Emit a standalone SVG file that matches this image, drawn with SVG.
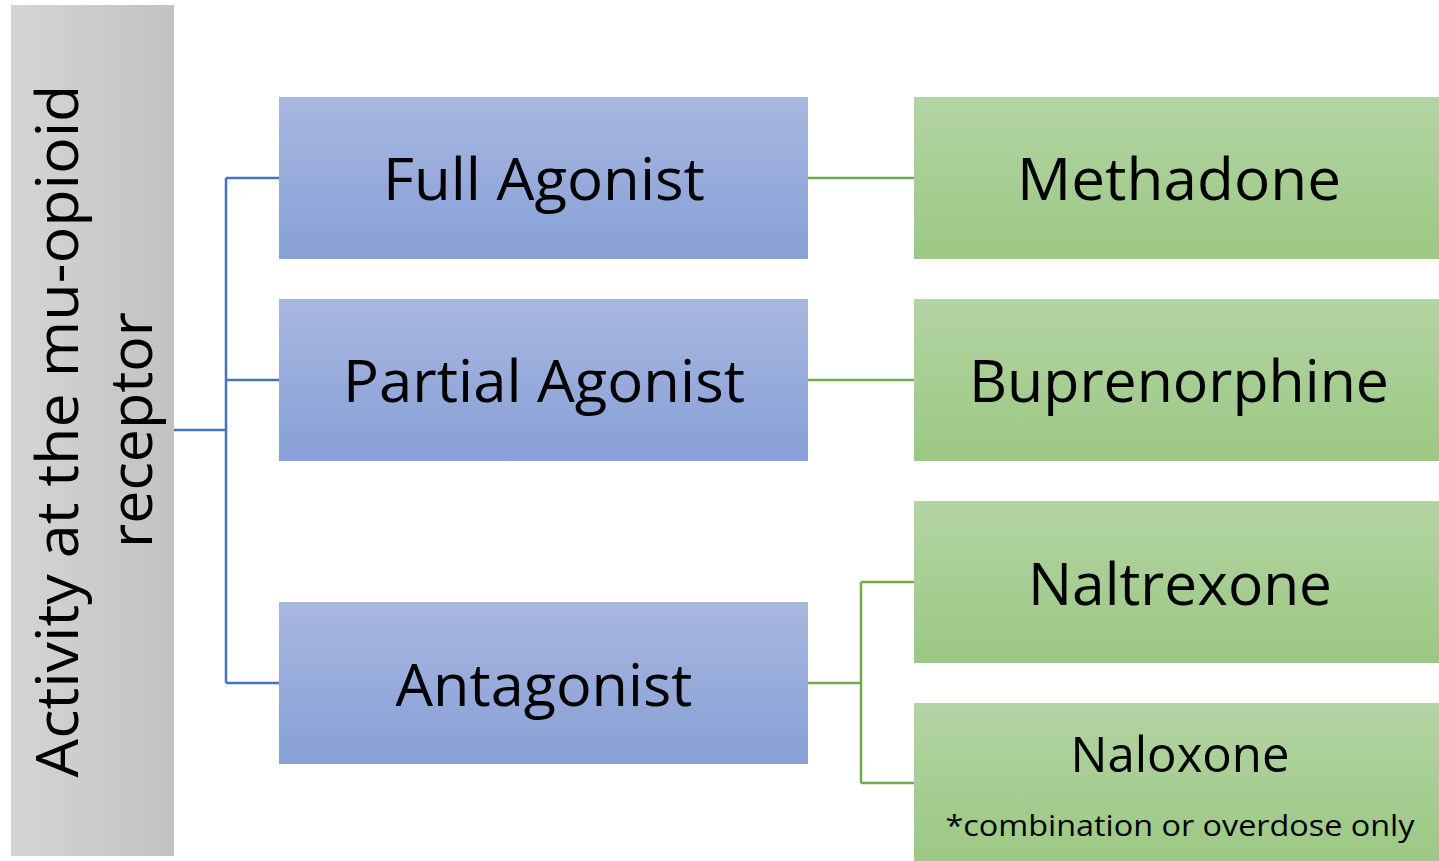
<svg xmlns="http://www.w3.org/2000/svg" width="1439" height="861" viewBox="0 0 1439 861">
  <defs>
    <linearGradient id="gGrey" x1="0" y1="0" x2="1" y2="0">
      <stop offset="0" stop-color="#d5d5d5"/>
      <stop offset="1" stop-color="#c2c2c2"/>
    </linearGradient>
    <linearGradient id="gBlue" x1="0" y1="0" x2="0" y2="1">
      <stop offset="0" stop-color="#a8b7e0"/>
      <stop offset="1" stop-color="#87a0d6"/>
    </linearGradient>
    <linearGradient id="gGreen" x1="0" y1="0" x2="0" y2="1">
      <stop offset="0" stop-color="#b3d4a3"/>
      <stop offset="1" stop-color="#9bc883"/>
    </linearGradient>
  </defs>
  <style>
    .t { font-family: "Open Sans", "Liberation Sans", sans-serif; fill: #000; text-anchor: middle; }
    .big { font-size: 58px; }
    .mid { font-size: 50px; }
    .small { font-size: 30px; }
    .blue { fill: url(#gBlue); }
    .green { fill: url(#gGreen); }
    .cb { fill: none; stroke: #4472c4; stroke-width: 2.5; }
    .cg { fill: none; stroke: #70ad47; stroke-width: 2.5; }
  </style>
  <rect width="1439" height="861" fill="#ffffff"/>

  <g id="connectors">
    <path class="cb" d="M174,430 H226 M226,178 V683 M226,178 H279 M226,380 H279 M226,683 H279"/>
    <path class="cg" d="M808,178 H914 M808,380 H914 M808,683 H861 M861,582 V783 M861,582 H914 M861,783 H914"/>
  </g>

  <g id="root">
    <rect x="11" y="5" width="163" height="851" fill="url(#gGrey)"/>
    <text class="t big" transform="translate(78,431) rotate(-90)" x="0" y="0" textLength="693" lengthAdjust="spacingAndGlyphs">Activity at the mu-opioid</text>
    <text class="t big" transform="translate(152,430) rotate(-90)" x="0" y="0" textLength="236" lengthAdjust="spacingAndGlyphs">receptor</text>
  </g>

  <g id="full-agonist">
    <rect class="blue" x="279" y="97" width="529" height="162"/>
    <text class="t big" x="544" y="200" textLength="322" lengthAdjust="spacingAndGlyphs">Full Agonist</text>
  </g>
  <g id="partial-agonist">
    <rect class="blue" x="279" y="299" width="529" height="162"/>
    <text class="t big" x="544" y="402" textLength="402" lengthAdjust="spacingAndGlyphs">Partial Agonist</text>
  </g>
  <g id="antagonist">
    <rect class="blue" x="279" y="602" width="529" height="162"/>
    <text class="t big" x="544" y="706" textLength="297" lengthAdjust="spacingAndGlyphs">Antagonist</text>
  </g>

  <g id="methadone">
    <rect class="green" x="914" y="97" width="525" height="162"/>
    <text class="t big" x="1179" y="200" textLength="324" lengthAdjust="spacingAndGlyphs">Methadone</text>
  </g>
  <g id="buprenorphine">
    <rect class="green" x="914" y="299" width="525" height="162"/>
    <text class="t big" x="1179" y="402" textLength="420" lengthAdjust="spacingAndGlyphs">Buprenorphine</text>
  </g>
  <g id="naltrexone">
    <rect class="green" x="914" y="501" width="525" height="162"/>
    <text class="t big" x="1180" y="605" textLength="304" lengthAdjust="spacingAndGlyphs">Naltrexone</text>
  </g>
  <g id="naloxone">
    <rect class="green" x="914" y="703" width="525" height="162"/>
    <text class="t mid" x="1180" y="772" textLength="219" lengthAdjust="spacingAndGlyphs">Naloxone</text>
    <text class="t small" x="1180" y="836" textLength="469" lengthAdjust="spacingAndGlyphs">*combination or overdose only</text>
  </g>
</svg>
